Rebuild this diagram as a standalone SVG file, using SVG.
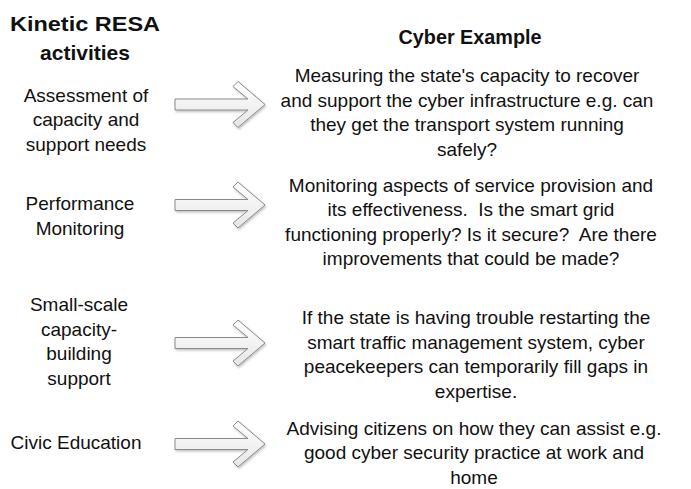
<svg xmlns="http://www.w3.org/2000/svg" width="691" height="489" viewBox="0 0 691 489">
<style>
text{font-family:"Liberation Sans",Arial,sans-serif;font-size:19px;fill:#111;text-anchor:middle}
.h{font-weight:bold;font-size:21px}
.arrow{fill:url(#g);stroke:#8a8a8a;stroke-width:1;stroke-linejoin:miter}
</style>
<defs>
<linearGradient id="g" x1="0" y1="0" x2="0" y2="1">
<stop offset="0" stop-color="#ffffff"/>
<stop offset="1" stop-color="#e6e6e6"/>
</linearGradient>
<filter id="sh" x="-10%" y="-10%" width="130%" height="140%">
<feDropShadow dx="1" dy="1.5" stdDeviation="1" flood-color="#000" flood-opacity="0.25"/>
</filter>
<path id="ar" d="M0,-5.5 H73 L58,-18 L63,-23 L90,0 L63,23 L58,18 L73,5.5 H0 Z"/>
</defs>
<rect width="691" height="489" fill="#fff"/>
<g id="headers">
<text class="h" x="85" y="31" textLength="150" lengthAdjust="spacingAndGlyphs">Kinetic RESA</text>
<text class="h" x="85" y="60">activities</text>
<text class="h" x="470" y="44" textLength="143" lengthAdjust="spacingAndGlyphs">Cyber Example</text>
</g>
<g id="act1"><text x="86" y="102">Assessment of</text><text x="86" y="126">capacity and</text><text x="86" y="151">support needs</text></g>
<g id="act2"><text x="80" y="210">Performance</text><text x="80" y="235">Monitoring</text></g>
<g id="act3"><text x="79" y="311">Small-scale</text><text x="79" y="336">capacity-</text><text x="79" y="360">building</text><text x="79" y="385">support</text></g>
<g id="act4"><text x="76" y="449">Civic Education</text></g>
<g id="ex1"><text x="467" y="82">Measuring the state's capacity to recover</text><text x="467" y="107">and support the cyber infrastructure e.g. can</text><text x="467" y="131">they get the transport system running</text><text x="467" y="156">safely?</text></g>
<g id="ex2"><text x="471" y="192">Monitoring aspects of service provision and</text><text x="471" y="216" xml:space="preserve">its effectiveness.  Is the smart grid</text><text x="471" y="241" xml:space="preserve">functioning properly? Is it secure?  Are there</text><text x="471" y="265">improvements that could be made?</text></g>
<g id="ex3"><text x="476" y="324">If the state is having trouble restarting the</text><text x="476" y="349">smart traffic management system, cyber</text><text x="476" y="373">peacekeepers can temporarily fill gaps in</text><text x="476" y="398">expertise.</text></g>
<g id="ex4"><text x="474" y="435">Advising citizens on how they can assist e.g.</text><text x="474" y="459">good cyber security practice at work and</text><text x="474" y="484">home</text></g>
<g id="connectors" filter="url(#sh)">
<use href="#ar" class="arrow" x="175" y="104.5"/>
<use href="#ar" class="arrow" x="175" y="205"/>
<use href="#ar" class="arrow" x="175" y="343"/>
<use href="#ar" class="arrow" x="175" y="444"/>
</g>
</svg>
